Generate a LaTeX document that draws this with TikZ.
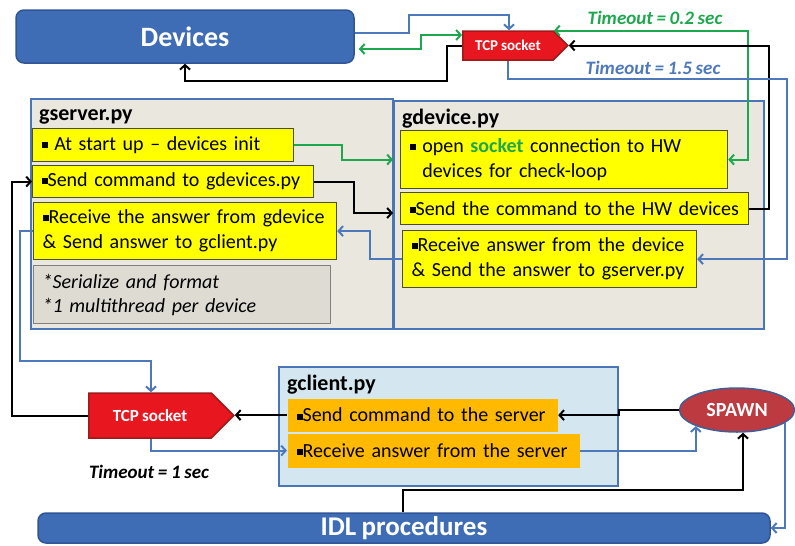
\documentclass[tikz,border=0pt]{standalone}
\usepackage{fontspec}
\setmainfont{Carlito}[WordSpace=0.85]
\usetikzlibrary{shapes.symbols,shapes.geometric,arrows.meta}

\definecolor{barblue}{HTML}{3E6DB5}
\definecolor{barline}{HTML}{2F5597}
\definecolor{panelblue}{HTML}{4A76B8}
\definecolor{paneltan}{HTML}{EAE7DE}
\definecolor{panelsky}{HTML}{D4E7F0}
\definecolor{itemyellow}{HTML}{FFFF00}
\definecolor{itemline}{HTML}{4D4D33}
\definecolor{itemorange}{HTML}{FFBA00}
\definecolor{notegray}{HTML}{DEDBD3}
\definecolor{noteline}{HTML}{808080}
\definecolor{sockred}{HTML}{E8161E}
\definecolor{sockline}{HTML}{9C1C1C}
\definecolor{spawnred}{HTML}{BC3A40}
\definecolor{spawnline}{HTML}{3F5F95}
\definecolor{linkgreen}{HTML}{1EA84E}
\definecolor{linkblue}{HTML}{4D79BB}

\newcommand{\sqb}{\rule[0.12em]{0.3em}{0.3em}}

\tikzset{
  bar/.style={draw=barline, fill=barblue, line width=1.5pt, rounded corners=8pt, text=white},
  panel/.style={draw=panelblue, line width=2pt, anchor=north west, inner sep=0pt},
  ptitle/.style={font=\fontsize{22}{24}\selectfont\bfseries, inner sep=0pt, anchor=west},
  itembox/.style={draw=itemline, line width=1.2pt, fill=itemyellow, anchor=north west, align=left,
    inner xsep=9pt, inner ysep=0pt, font=\fontsize{20}{25}\selectfont},
  citem/.style={itembox, draw=none, fill=itemorange},
  noteitem/.style={itembox, draw=noteline, fill=notegray, font=\fontsize{20}{24}\selectfont\itshape},
  sock/.style={signal, signal to=east, draw=sockline, fill=sockred, line width=1.5pt, text=white,
    anchor=west, inner sep=0pt},
  tmo/.style={font=\fontsize{19}{20}\selectfont\bfseries\itshape, inner sep=0pt},
  wire/.style={->, line width=2pt},
}

\begin{document}
\begin{tikzpicture}[x=1pt, y=-1pt, >={Straight Barb[length=4.5pt,width=10pt]}]
\useasboundingbox (0,0) rectangle (795,546);

\node[panel, fill=paneltan, minimum width=362pt, minimum height=230pt] (srv) at (30,98) {};
\node[panel, fill=paneltan, minimum width=370pt, minimum height=228pt] (dev) at (393,100) {};
\node[panel, fill=panelsky, minimum width=339pt, minimum height=119pt] (cli) at (278,366) {};

\foreach \p/\t in {srv/gserver.py, dev/gdevice.py, cli/gclient.py}
  \node[ptitle] (\p-title) at ([shift={(9,19)}]\p.north west) {\t};

\node[itembox, text width=243pt, minimum height=33pt] (srv-1) at (32,128) {\sqb{} At start up -- devices init};
\node[itembox, text width=263pt, minimum height=32pt] (srv-2) at (32,165) {\sqb Send command to gdevices.py};
\node[itembox, text width=285pt, minimum height=57pt] (srv-3) at (33,202) {\sqb Receive the answer from gdevice\\\& Send answer to gclient.py};
\node[noteitem, text width=279pt, minimum height=58pt] (srv-note) at (33,265) {*Serialize and format\\{}*1 multithread per device};

\node[itembox, text width=309pt, minimum height=58pt] (dev-1) at (400,130) {\sqb{} open \textcolor{linkgreen}{\bfseries socket} connection to HW\\\phantom{\sqb{} }devices for check-loop};
\node[itembox, text width=330pt, minimum height=32pt] (dev-2) at (400,192) {\sqb Send the command to the HW devices};
\node[itembox, text width=276pt, minimum height=57pt] (dev-3) at (402,230) {\sqb Receive answer from the device\\\& Send the answer to gserver.py};

\node[citem, text width=252pt, minimum height=33pt] (cli-1) at (287,398) {\sqb Send command to the server};
\node[citem, text width=274pt, minimum height=34pt] (cli-2) at (287,433) {\sqb Receive answer from the server};

\node[bar, minimum width=338pt, minimum height=53pt, font=\fontsize{28}{30}\selectfont\bfseries] (devices) at (185,36.5) {Devices};
\node[bar, minimum width=732pt, minimum height=30pt, font=\fontsize{27}{28}\selectfont\bfseries] (idl) at (404,528) {IDL procedures};

\node[sock, minimum width=105pt, minimum height=29pt, font=\fontsize{15}{16}\selectfont\bfseries] (sock-top) at (462,45.5) {TCP socket};
\node[sock, minimum width=145pt, minimum height=45pt, font=\fontsize{17}{18}\selectfont\bfseries] (sock-bot) at (88,415.5) {TCP socket};

\node[ellipse, draw=spawnline, fill=spawnred, line width=1.5pt, minimum width=115pt, minimum height=44pt,
  inner sep=0pt, text=white, font=\fontsize{20}{22}\selectfont\bfseries] (spawn) at (737,410) {SPAWN};

\node[tmo, text=linkgreen] (tmo-fast) at (655,18) {Timeout = 0.2 sec};
\node[tmo, text=linkblue] (tmo-mid) at (653,68) {Timeout = 1.5 sec};
\node[tmo] (tmo-cli) at (149,472) {Timeout = 1 sec};

% devices <-> top socket
\draw[wire, linkblue] (devices.east |- 0,33) -- (409,33) |- (509,15) -- (509,0 |- sock-top.north);
\draw[wire, linkgreen, <->, shorten <=4pt] (devices.east |- 0,49) -- (421,49) |- (sock-top.west |- 0,35);
\draw[wire] (sock-top.west) -| (447,81) -| (devices.south);

% top socket <-> gdevice
\draw[wire, linkgreen, <->] (sock-top.18) -| ([xshift=20pt]dev-1.east) -- (dev-1.east);
\draw[wire] (dev-2.east) -- ++(20,0) |- (sock-top.east);
\draw[wire, linkblue] (sock-top.south -| 508,0) |- (787,79) |- (dev-3.east);

% gserver <-> gdevice
\draw[wire, linkgreen] (srv-1.east) -- ++(48,0) |- (dev.west |- dev-1.west);
\draw[wire] (srv-2.east) -- ++(40,0) |- (dev.west |- 0,213);
\draw[wire, linkblue] (dev-3.west) -- ++(-32,0) |- (srv-3.east);

% gserver <-> bottom socket
\draw[wire] (sock-bot.west) -- ++(-76,0) |- (srv-2.west);
\draw[wire, linkblue] (srv-3.west) -- ++(-13,0) |- (151,361) -- (sock-bot.north -| 151,0);

% gclient, spawn, idl
\draw[wire, linkblue] (sock-bot.south -| 151,0) |- (cli-2.west);
\draw[wire] (cli-1.west) -- (cli-1.west -| sock-bot.east);
\draw[wire] (spawn.west) -- ++(-60,0) |- (cli-1.east);
\draw[wire, linkblue] (cli-2.east) -| (spawn.south west);
\draw[wire] (idl.north -| 403,0) -- ++(0,-22) -| ([xshift=6pt]spawn.south);
\draw[wire, linkblue] (spawn.-15) |- (idl.east);
\end{tikzpicture}
\end{document}
